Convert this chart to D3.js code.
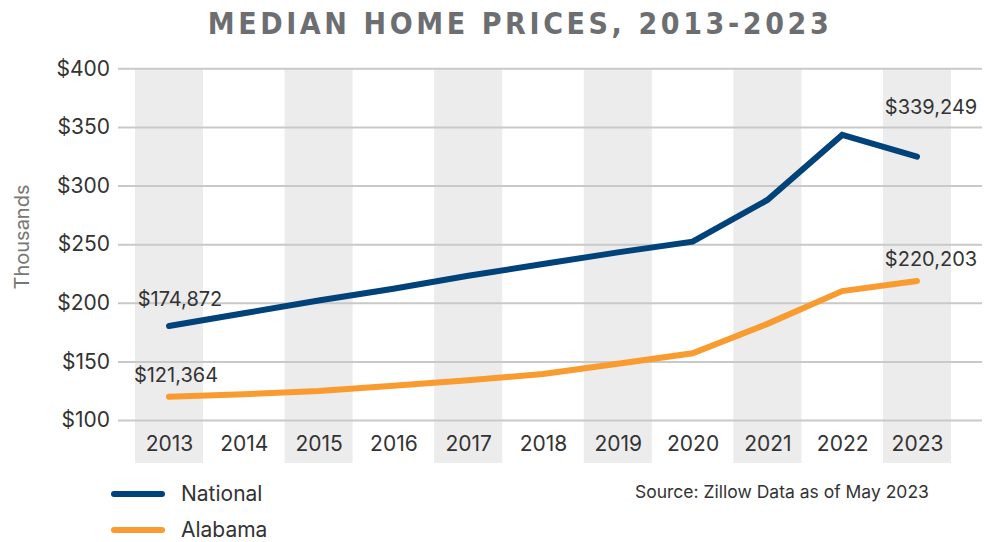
<!DOCTYPE html>
<html lang="en">
<head>
<meta charset="UTF-8">
<script src="https://d3js.org/d3.v7.min.js"></script>
<style>
  body { margin: 0; background: #fff; }
  svg { display: block; font-family: "Inter", "Roboto", sans-serif; }
</style>
<title>Median Home Prices</title>
</head>
<body>
<svg id="chart" width="984" height="542"></svg>
<script>
// data (thousands of dollars)
const years = ["2013", "2014", "2015", "2016", "2017", "2018", "2019", "2020", "2021", "2022", "2023"];
const national = [180.2, 191, 202, 212, 223, 233, 243, 252.1, 287.7, 343.2, 324.7];
const alabama = [119.9, 122, 124.8, 129.3, 134, 139.2, 148, 156.9, 182, 210, 218.6];
const yTicks = [100, 150, 200, 250, 300, 350, 400];
const seriesNames = ["National", "Alabama"];
const seriesColors = ["#00437b", "#f99b2f"];
const endLabels = [
  { series: 0, idx: 0, text: "$174,872" },
  { series: 1, idx: 0, text: "$121,364" },
  { series: 0, idx: 10, text: "$339,249" },
  { series: 1, idx: 10, text: "$220,203" }
];

// label placement tweaks (px), same order as endLabels
const labelShift = [[11, -20], [7, -15], [14, -43], [14, -15]];

const svg = d3.select("#chart");

const x = d3.scalePoint().domain(years).range([169, 917]);
const y = d3.scaleLinear().domain([100, 400]).range([420, 68.3]);
const bandW = 68;

// shaded bands on alternate years
svg.append("g")
  .selectAll("rect")
  .data(years.filter((d, i) => i % 2 === 0))
  .enter().append("rect")
  .attr("x", d => x(d) - bandW / 2)
  .attr("y", y(400))
  .attr("width", bandW)
  .attr("height", 463 - y(400))
  .attr("fill", "#ececec");

// gridlines + y labels
const yAxis = d3.axisLeft(y)
  .tickValues(yTicks)
  .tickSize(-(982 - 118))
  .tickPadding(8)
  .tickFormat(d => "$" + d);
svg.append("g")
  .attr("transform", "translate(118,0)")
  .call(yAxis)
  .call(g => g.select(".domain").remove())
  .call(g => g.selectAll("line").attr("stroke", "#c9c9c9").attr("stroke-width", 2))
  .call(g => g.selectAll("text")
    .attr("font-size", 21)
    .attr("fill", "#333")
    .attr("font-family", "Inter, Roboto, sans-serif"));

// x labels
const xAxis = d3.axisBottom(x).tickSize(0).tickPadding(0);
svg.append("g")
  .attr("transform", "translate(0,436)")
  .call(xAxis)
  .call(g => g.select(".domain").remove())
  .call(g => g.selectAll("text")
    .attr("font-size", 21)
    .attr("fill", "#333")
    .attr("font-family", "Inter, Roboto, sans-serif"));

// lines
const line = d3.line().x((d, i) => x(years[i])).y(d => y(d));
[national, alabama].forEach((vals, s) => {
  svg.append("path")
    .datum(vals)
    .attr("d", line)
    .attr("fill", "none")
    .attr("stroke", seriesColors[s])
    .attr("stroke-width", 6)
    .attr("stroke-linecap", "round")
    .attr("stroke-linejoin", "miter");
});

// value labels
const seriesVals = [national, alabama];
svg.append("g")
  .selectAll("text")
  .data(endLabels)
  .enter().append("text")
  .attr("x", (d, i) => x(years[d.idx]) + labelShift[i][0])
  .attr("y", (d, i) => y(seriesVals[d.series][d.idx]) + labelShift[i][1])
  .attr("text-anchor", "middle")
  .attr("font-size", 20)
  .attr("fill", "#333")
  .text(d => d.text);

// title
svg.append("text")
  .attr("x", 520)
  .attr("y", 34)
  .attr("text-anchor", "middle")
  .attr("font-family", "'DejaVu Sans Condensed', 'DejaVu Sans', sans-serif")
  .attr("font-weight", "bold")
  .attr("font-size", 30)
  .attr("letter-spacing", 3.6)
  .attr("fill", "#6d6e71")
  .text("MEDIAN HOME PRICES, 2013-2023");

// y axis title
svg.append("text")
  .attr("transform", "translate(29,237) rotate(-90)")
  .attr("text-anchor", "middle")
  .attr("font-size", 20)
  .attr("fill", "#777")
  .text("Thousands");

// legend
const legend = svg.append("g")
  .selectAll("g")
  .data(seriesNames)
  .enter().append("g")
  .attr("transform", (d, i) => `translate(0,${494 + i * 36})`);
legend.append("line")
  .attr("x1", 114).attr("x2", 162)
  .attr("stroke", (d, i) => seriesColors[i])
  .attr("stroke-width", 6)
  .attr("stroke-linecap", "round");
legend.append("text")
  .attr("x", 181)
  .attr("dy", "0.35em")
  .attr("font-size", 21)
  .attr("fill", "#333")
  .text(d => d);

// source
svg.append("text")
  .attr("x", 635)
  .attr("y", 498)
  .attr("font-size", 17.5)
  .attr("fill", "#333")
  .text("Source: Zillow Data as of May 2023");
</script>
</body>
</html>
